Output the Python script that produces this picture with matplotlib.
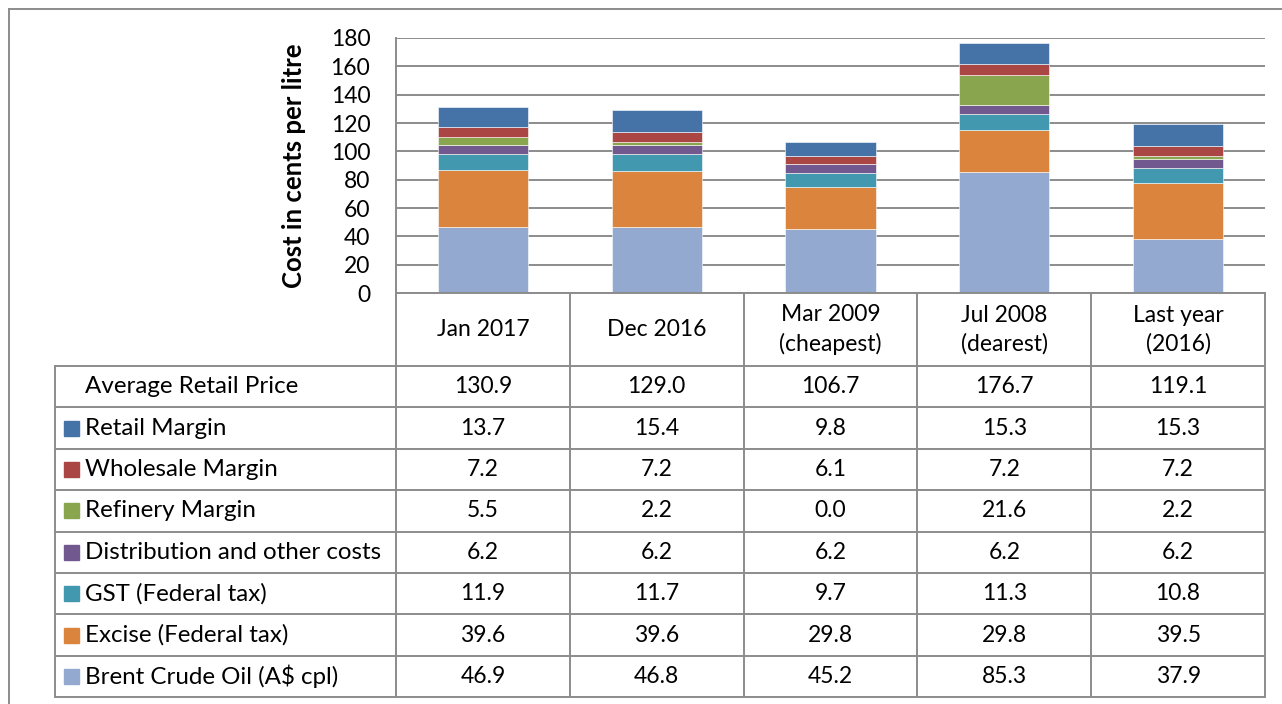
import matplotlib.pyplot as plt
from matplotlib.patches import Rectangle

plt.rcParams['font.family'] = ['Lato', 'DejaVu Sans']

# columns of the chart / table
categories = ['Jan 2017', 'Dec 2016', 'Mar 2009\n(cheapest)', 'Jul 2008\n(dearest)', 'Last year\n(2016)']

# stack components, bottom to top
brent = [46.9, 46.8, 45.2, 85.3, 37.9]
excise = [39.6, 39.6, 29.8, 29.8, 39.5]
gst = [11.9, 11.7, 9.7, 11.3, 10.8]
distribution = [6.2, 6.2, 6.2, 6.2, 6.2]
refinery = [5.5, 2.2, 0.0, 21.6, 2.2]
wholesale = [7.2, 7.2, 6.1, 7.2, 7.2]
retail = [13.7, 15.4, 9.8, 15.3, 15.3]
average_price = [130.9, 129.0, 106.7, 176.7, 119.1]

series = [
    ('Brent Crude Oil (A$ cpl)', brent, '#93A9CF'),
    ('Excise (Federal tax)', excise, '#DB843D'),
    ('GST (Federal tax)', gst, '#4198AF'),
    ('Distribution and other costs', distribution, '#71588F'),
    ('Refinery Margin', refinery, '#89A54E'),
    ('Wholesale Margin', wholesale, '#AA4643'),
    ('Retail Margin', retail, '#4572A7'),
]

W, H = 1282, 704
grid_col = '#8c8c8c'
fs = 16.5
fig = plt.figure(figsize=(W / 100, H / 100), dpi=100)

# pixel layout
x_left, x_right = 396, 1265
y_top, y_zero = 38, 293
label_left = 55
row_h = 41.4
header_bottom = 366

ax = fig.add_axes([x_left / W, 1 - y_zero / H, (x_right - x_left) / W, (y_zero - y_top) / H])
bottom = [0.0] * len(categories)
xs = list(range(len(categories)))
for name, vals, col in series:
    ax.bar(xs, vals, width=0.52, bottom=bottom, color=col, edgecolor='white', linewidth=0.4, zorder=3)
    bottom = [b + v for b, v in zip(bottom, vals)]

ax.set_xlim(-0.5, len(categories) - 0.5)
ax.set_ylim(0, 180)
ax.set_yticks(range(0, 181, 20))
ax.yaxis.grid(True, color=grid_col, linewidth=1.4, zorder=0)
ax.set_xticks([])
ax.tick_params(axis='y', length=0, pad=18.5, labelsize=fs)
for s in ['top', 'right', 'bottom']:
    ax.spines[s].set_visible(False)
ax.spines['left'].set_color(grid_col)
ax.spines['left'].set_linewidth(1.4)
ax.set_ylabel('Cost in cents per litre', fontsize=18.5, fontweight='bold', labelpad=18)

# overlay in pixel coords for the data table
ov = fig.add_axes([0, 0, 1, 1], zorder=5)
ov.set_xlim(0, W)
ov.set_ylim(H, 0)
ov.axis('off')
ov.patch.set_alpha(0)

col_edges = [x_left + i * (x_right - x_left) / len(categories) for i in range(len(categories) + 1)]
n_rows = 1 + len(series)
row_edges = [header_bottom + i * row_h for i in range(n_rows + 1)]
table_bottom = row_edges[-1]

lw = 1.4
# outer frame of the chart area
ov.plot([9, W + 5], [9, 9], color=grid_col, lw=lw)
ov.plot([9, 9], [9, H + 5], color=grid_col, lw=lw)

# horizontal table lines
ov.plot([x_left, x_right], [y_zero, y_zero], color=grid_col, lw=lw)
for y in row_edges:
    ov.plot([label_left, x_right], [y, y], color=grid_col, lw=lw)
# vertical table lines
ov.plot([x_left, x_left], [y_zero, table_bottom], color=grid_col, lw=lw)
for x in col_edges[1:]:
    ov.plot([x, x], [y_zero, table_bottom], color=grid_col, lw=lw)
ov.plot([label_left, label_left], [header_bottom, table_bottom], color=grid_col, lw=lw)

# header labels
for i, cat in enumerate(categories):
    cx = (col_edges[i] + col_edges[i + 1]) / 2
    ov.text(cx, (y_zero + header_bottom) / 2, cat, ha='center', va='center',
            fontsize=fs, linespacing=1.4)

# rows: average price first, then series top to bottom
rows = [('Average Retail Price', average_price, None)] + list(reversed(series))
for r, (name, vals, col) in enumerate(rows):
    cy = (row_edges[r] + row_edges[r + 1]) / 2
    if col is not None:
        ov.add_patch(Rectangle((64, cy - 7.5), 15, 15, color=col))
    ov.text(85, cy, name, ha='left', va='center', fontsize=17.4)
    for i, v in enumerate(vals):
        cx = (col_edges[i] + col_edges[i + 1]) / 2
        ov.text(cx, cy, f'{v:.1f}', ha='center', va='center', fontsize=fs)

fig.savefig('out.png', dpi=100)
